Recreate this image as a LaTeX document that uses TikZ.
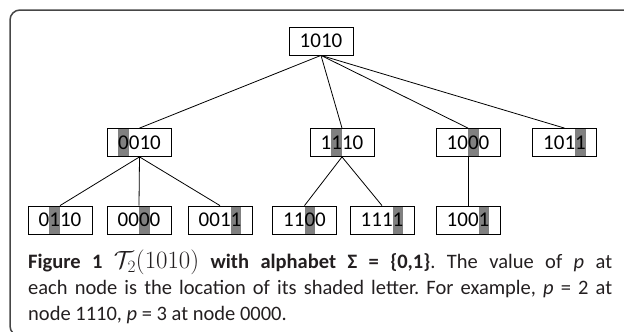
\documentclass[tikz,border=0pt]{standalone}
\usepackage{fontspec}
\setmainfont{Carlito}
\usepackage{xcolor}

\definecolor{shade}{RGB}{128,128,128}
\definecolor{framegray}{RGB}{70,70,70}
\definecolor{captext}{RGB}{35,31,32}

% shaded letter
\newcommand{\hl}[1]{\sbox0{#1}\rlap{\textcolor{shade}{\rule[-7pt]{\wd0}{27pt}}}#1}

\tikzset{
	bit/.style={draw, line width=0.8pt, minimum width=64pt, minimum height=28pt,
		inner xsep=0pt, inner ysep=0pt, font=\fontsize{21}{21}\selectfont},
	link/.style={line width=0.8pt}
}

\begin{document}
\frenchspacing
\begin{tikzpicture}[x=1pt, y=-1pt]
	\clip (0,0) rectangle (624,332);
	\draw[framegray, line width=1.5pt, rounded corners=10pt] (10,10) rectangle (660,336);
	
	\node[bit] (root) at (321,41) {1010};
	
	\node[bit] (n0010) at (139.5,142.5) {\hl{0}010};
	\node[bit] (n1110) at (342,142.5) {1\hl{1}10};
	\node[bit] (n1000) at (468,142.5) {10\hl{0}0};
	\node[bit] (n1011) at (564.5,142.5) {101\hl{1}};
	
	\node[bit] (n0110) at (60,220) {0\hl{1}10};
	\node[bit] (n0000) at (139,220) {00\hl{0}0};
	\node[bit] (n0011) at (220,220) {001\hl{1}};
	\node[bit] (n1100) at (304.5,220) {11\hl{0}0};
	\node[bit] (n1111) at (382,220) {111\hl{1}};
	\node[bit] (n1001) at (468,220) {100\hl{1}};
	
	\draw[link] (root.south) -- (n0010.north);
	\draw[link] (root.south) -- (n1110.north);
	\draw[link] (root.south) -- (n1000.north);
	\draw[link] (root.south) -- (n1011.north);
	
	\draw[link] (n0010.south) -- (n0110.north);
	\draw[link] (n0010.south) -- (n0000.north);
	\draw[link] (n0010.south) -- (n0011.north);
	\draw[link] (n1110.south) -- (n1100.north);
	\draw[link] (n1110.south) -- (n1111.north);
	\draw[link] (n1000.south) -- (n1001.north);
	
	\node[anchor=north west, inner sep=0pt, text width=584pt, align=justify, text=captext,
		font=\fontsize{20.5}{26}\selectfont] (caption) at (28,250)
		{\textbf{Figure 1 {\fontsize{25}{26}\selectfont$\mathcal{T}_2(1010)$} with alphabet Σ = \{0,1\}}. The value of \textit{p} at\linebreak
		each node is the location of its shaded letter. For example, \textit{p} = 2 at\linebreak
		node 1110, \textit{p} = 3 at node 0000.};
\end{tikzpicture}
\end{document}
